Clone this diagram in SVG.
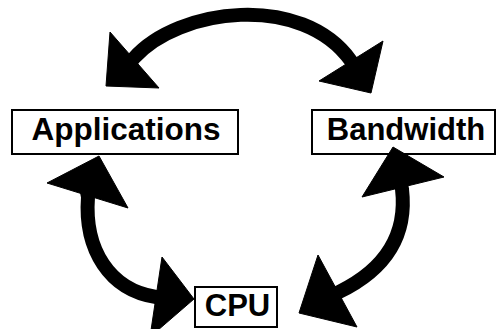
<svg xmlns="http://www.w3.org/2000/svg" width="498" height="329" viewBox="0 0 498 329">
  <style>
    .box { fill: #fff; stroke: #000; stroke-width: 2; }
    .label { font-family: "Liberation Sans", Arial, Helvetica, sans-serif; font-weight: bold; fill: #000; text-anchor: middle; }
    .shaft { fill: none; stroke: #000; stroke-width: 14; stroke-linecap: butt; }
    .head { fill: #000; stroke: #000; stroke-width: 1; stroke-linejoin: miter; }
  </style>
  <rect width="498" height="329" fill="#fff"/>

  <g id="applications">
    <rect class="box" x="12" y="110" width="226" height="44"/>
    <text class="label" x="126" y="140" font-size="31.5">Applications</text>
  </g>

  <g id="bandwidth">
    <rect class="box" x="312" y="110" width="183" height="44"/>
    <text class="label" x="406" y="140" font-size="31">Bandwidth</text>
  </g>

  <g id="cpu">
    <rect class="box" x="195" y="287" width="82" height="40"/>
    <text class="label" x="237.5" y="316" font-size="31">CPU</text>
  </g>

  <g id="connectors">
    <!-- Applications <-> Bandwidth -->
    <path class="shaft" d="M130,63 L134,58 C178,8 302,-8 351,61 L355,67"/>
    <polygon class="head" points="110,32 106,86 159,88"/>
    <polygon class="head" points="383,41 319,81 371,93"/>

    <!-- Applications <-> CPU -->
    <path class="shaft" d="M87,192 L88,197 C84,250 110,290 156,297 L162,298"/>
    <polygon class="head" points="47,183 99,156 128,208"/>
    <polygon class="head" points="162,257 194,299 150,337"/>

    <!-- Bandwidth <-> CPU -->
    <path class="shaft" d="M401,184 L402,189 C408,240 380,272 339,292 L334,295"/>
    <polygon class="head" points="362,197 393,147 444,177"/>
    <polygon class="head" points="318,255 299,313 357,327"/>
  </g>
</svg>
